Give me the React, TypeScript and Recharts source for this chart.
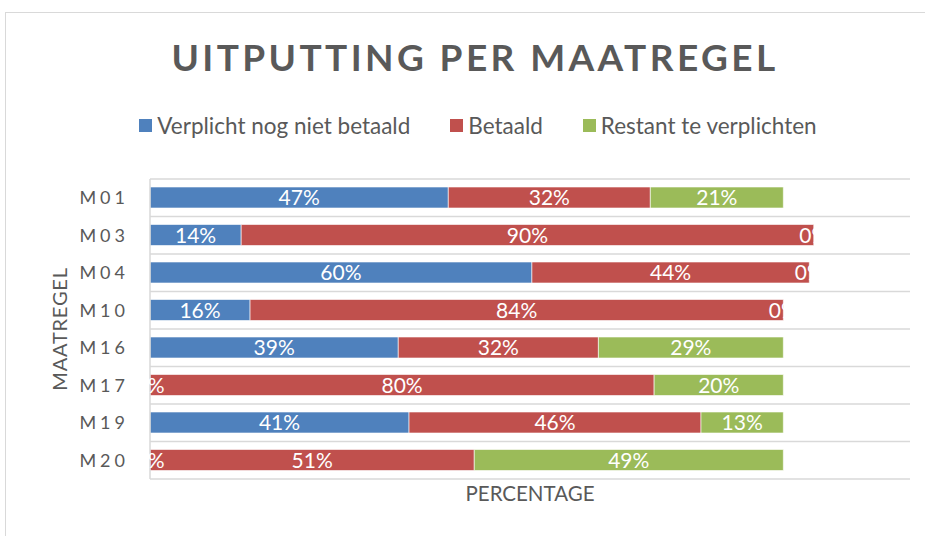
import { Bar, BarChart, CartesianGrid, LabelList, XAxis, YAxis } from 'recharts'

const categories = ['M01', 'M03', 'M04', 'M10', 'M16', 'M17', 'M19', 'M20']
const verplicht = [0.471, 0.144, 0.603, 0.158, 0.392, 0, 0.409, 0]
const betaald = [0.319, 0.904, 0.438, 0.842, 0.316, 0.796, 0.461, 0.512]
const restant = [0.21, 0, 0, 0, 0.292, 0.204, 0.13, 0.488]

const series = [
  { key: 'verplicht', name: 'Verplicht nog niet betaald', color: '#4F81BD' },
  { key: 'betaald', name: 'Betaald', color: '#C0504D' },
  { key: 'restant', name: 'Restant te verplichten', color: '#9BBB59' },
]

const data = categories.map((name, i) => ({
  name,
  verplicht: verplicht[i],
  betaald: betaald[i],
  restant: restant[i],
  total: verplicht[i] + betaald[i] + restant[i],
}))

const font = 'Lato, "Open Sans", sans-serif'
const grey = '#595959'
const pct = (v: number) => `${Math.round(v * 100)}%`

// Excel also prints labels for 0-width segments (white on white past the bar end),
// recharts drops those, so all labels are drawn from the row total bar
function RowLabels(props: any) {
  const box = props.viewBox ?? props
  const { x, y, width, height } = box
  const row = data[props.index]
  if (!row || x == null) return null
  let start = 0
  return (
    <g>
      {series.map((s) => {
        const v = (row as any)[s.key] as number
        const cx = x + (width * (start + v / 2)) / row.total
        start += v
        return (
          <text
            key={s.key}
            x={cx}
            y={y + height / 2}
            dy="0.36em"
            textAnchor="middle"
            fill="#ffffff"
            fontSize={21}
            fontFamily={font}
          >
            {pct(v)}
          </text>
        )
      })}
    </g>
  )
}

export default function App() {
  return (
    <div
      style={{
        position: 'absolute',
        left: 0,
        top: 0,
        width: 925,
        height: 536,
        overflow: 'hidden',
        background: '#fff',
        fontFamily: font,
      }}
    >
      <div
        style={{
          position: 'absolute',
          left: 5,
          top: 12,
          width: 960,
          height: 560,
          border: '1.5px solid #d9d9d9',
        }}
      />
      <div
        style={{
          position: 'absolute',
          left: 0,
          top: 34,
          width: 950,
          textAlign: 'center',
          fontSize: 37,
          fontWeight: 700,
          letterSpacing: 3.4,
          color: grey,
        }}
      >
        UITPUTTING PER MAATREGEL
      </div>
      <div
        style={{
          position: 'absolute',
          left: 0,
          top: 112,
          width: 956,
          display: 'flex',
          justifyContent: 'center',
          gap: 40,
          fontSize: 22.5,
          color: grey,
        }}
      >
        {series.map((s) => (
          <div key={s.key} style={{ display: 'flex', alignItems: 'center' }}>
            <span style={{ width: 13, height: 13, background: s.color, marginRight: 5, display: 'inline-block' }} />
            <span>{s.name}</span>
          </div>
        ))}
      </div>
      <div style={{ position: 'absolute', left: 0, top: 0 }}>
        <BarChart
          width={925}
          height={536}
          data={data}
          layout="vertical"
          margin={{ top: 179, right: 15, bottom: 17, left: 0 }}
        >
          <CartesianGrid
            vertical={false}
            stroke="#d9d9d9"
            strokeWidth={1.5}
            horizontalCoordinatesGenerator={({ offset }: any) =>
              Array.from({ length: categories.length + 1 }, (_, i) => offset.top + (i * offset.height) / categories.length)
            }
          />
          <XAxis
            type="number"
            domain={[0, 1.2]}
            height={40}
            tick={false}
            tickLine={false}
            axisLine={false}
            label={{
              value: 'PERCENTAGE',
              position: 'insideTop',
              offset: 7,
              fill: grey,
              fontSize: 20.5,
              fontFamily: font,
            }}
          />
          <YAxis
            type="category"
            dataKey="name"
            width={150}
            tickLine={false}
            tickSize={0}
            tickMargin={21}
            axisLine={{ stroke: '#d9d9d9', strokeWidth: 1.5 }}
            tick={{ fill: grey, fontSize: 18, letterSpacing: 4, fontFamily: font }}
            label={{
              value: 'MAATREGEL',
              angle: -90,
              position: 'insideLeft',
              offset: 60,
              fill: grey,
              fontSize: 20,
              letterSpacing: 0.8,
              fontFamily: font,
              style: { textAnchor: 'middle' },
            }}
          />
          <YAxis yAxisId="rows" type="category" dataKey="name" hide />
          {series.map((s) => (
            <Bar
              key={s.key}
              dataKey={s.key}
              name={s.name}
              stackId="a"
              fill={s.color}
              stroke="#ffffff"
              strokeWidth={0.6}
              barSize={21}
              isAnimationActive={false}
            />
          ))}
          <Bar
            yAxisId="rows"
            dataKey="total"
            fill="transparent"
            barSize={21}
            legendType="none"
            isAnimationActive={false}
          >
            <LabelList dataKey="total" content={RowLabels} />
          </Bar>
        </BarChart>
      </div>
    </div>
  )
}
